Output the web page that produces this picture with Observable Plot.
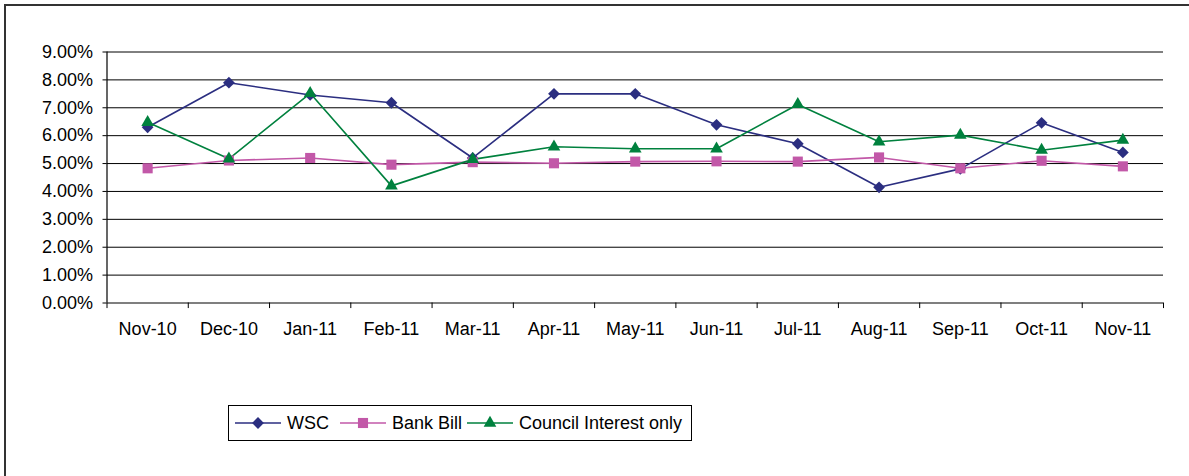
<!DOCTYPE html>
<html>
<head>
<meta charset="utf-8">
<script src="https://cdn.jsdelivr.net/npm/d3@7"></script>
<script src="https://cdn.jsdelivr.net/npm/@observablehq/plot@0.6"></script>
<style>
  html, body { margin: 0; padding: 0; background: #fff; }
  #wrap { position: relative; width: 1189px; height: 476px; overflow: hidden; font-family: "Liberation Sans", Arial, sans-serif; }
  #frame { position: absolute; left: 4px; top: 4px; width: 1200px; height: 500px; border-top: 2px solid #333; border-left: 2px solid #333; }
  #chart { position: absolute; left: 0; top: 0; }
  #chart svg text { font-family: "Liberation Sans", Arial, sans-serif !important; font-size: 18px !important; font-weight: normal !important; fill: #000; }
  #legend { position: absolute; left: 228px; top: 405px; width: 462px; height: 34px; border: 1px solid #000; background: #fff;
            display: flex; align-items: center; font-size: 18px; color: #000; }
  .item { display: flex; align-items: center; }
  .item svg { margin-right: 6px; }
</style>
</head>
<body>
<div id="wrap">
  <div id="frame"></div>
  <div id="chart"></div>
  <div id="legend"></div>
</div>
<script>
const months = ["Nov-10","Dec-10","Jan-11","Feb-11","Mar-11","Apr-11","May-11","Jun-11","Jul-11","Aug-11","Sep-11","Oct-11","Nov-11"];
const wsc      = [6.30, 7.90, 7.46, 7.18, 5.20, 7.50, 7.50, 6.39, 5.71, 4.15, 4.81, 6.46, 5.40];
const bankBill = [4.83, 5.11, 5.20, 4.96, 5.05, 5.01, 5.07, 5.08, 5.07, 5.22, 4.83, 5.10, 4.90];
const council  = [6.48, 5.17, 7.52, 4.20, 5.15, 5.60, 5.53, 5.53, 7.12, 5.78, 6.02, 5.48, 5.84];
const yTicks = [0,1,2,3,4,5,6,7,8,9];

const series = [
  {name: "WSC", values: wsc, color: "#2B2E80", symbol: "diamond2", r: 5.3, gap: 6},
  {name: "Bank Bill", values: bankBill, color: "#C258A8", symbol: "square", r: 5.7, gap: 11},
  {name: "Council Interest only", values: council, color: "#00813E", symbol: "triangle", r: 4.7, gap: 5}
];

const rows = series.flatMap(s => s.values.map((v, i) => ({series: s.name, i: i + 0.5, v})));

const marks = [
  Plot.ruleY(yTicks.slice(1), {stroke: "#000", strokeWidth: 1}),
  Plot.ruleY([0], {stroke: "#000", strokeWidth: 1.2}),
  Plot.ruleX([0], {stroke: "#000", strokeWidth: 1.2}),
  Plot.ruleX(d3.range(0, months.length + 1), {y1: 0, y2: -0.2, stroke: "#000", strokeWidth: 1}),
  Plot.axisY({ticks: yTicks, tickFormat: d => d.toFixed(2) + "%", tickSize: 4, tickPadding: 10, fontSize: 18, label: null, color: "#000"}),
  Plot.axisX({ticks: months.map((m, i) => i + 0.5), tickFormat: d => months[Math.round(d - 0.5)], tickSize: 0, tickPadding: 19, fontSize: 18, label: null, color: "#000"})
];
for (const s of series) {
  const d = rows.filter(r => r.series === s.name);
  marks.push(Plot.line(d, {x: "i", y: "v", stroke: s.color, strokeWidth: 1.6}));
}
for (const s of series) {
  const d = rows.filter(r => r.series === s.name);
  marks.push(Plot.dot(d, {x: "i", y: "v", symbol: () => s.symbol, fill: s.color, stroke: "none", r: s.r}));
}

const chart = Plot.plot({
  width: 1189,
  height: 340,
  marginLeft: 106.5,
  marginRight: 26,
  marginTop: 51.5,
  marginBottom: 37.5,
  x: {domain: [0, months.length], axis: null},
  y: {domain: [0, 9], axis: null},
  symbol: {type: "identity"},
  style: {fontFamily: "'Liberation Sans', Arial, sans-serif", fontSize: "18px", background: "transparent", color: "#000"},
  marks
});
document.getElementById("chart").appendChild(chart);

// Legend
const legend = document.getElementById("legend");
const symMap = {diamond2: d3.symbolDiamond2, square: d3.symbolSquare, triangle: d3.symbolTriangle};
for (const s of series) {
  const item = document.createElement("div");
  item.className = "item";
  item.style.marginLeft = s.gap + "px";
  const sw = d3.create("svg").attr("width", 46).attr("height", 16);
  sw.append("line").attr("x1", 0).attr("x2", 46).attr("y1", 8).attr("y2", 8).attr("stroke", s.color).attr("stroke-width", 1.6);
  sw.append("path").attr("transform", "translate(23,8)").attr("d", d3.symbol(symMap[s.symbol], Math.PI * s.r * s.r)()).attr("fill", s.color);
  item.appendChild(sw.node());
  const t = document.createElement("span");
  t.textContent = s.name;
  item.appendChild(t);
  legend.appendChild(item);
}
</script>
</body>
</html>
